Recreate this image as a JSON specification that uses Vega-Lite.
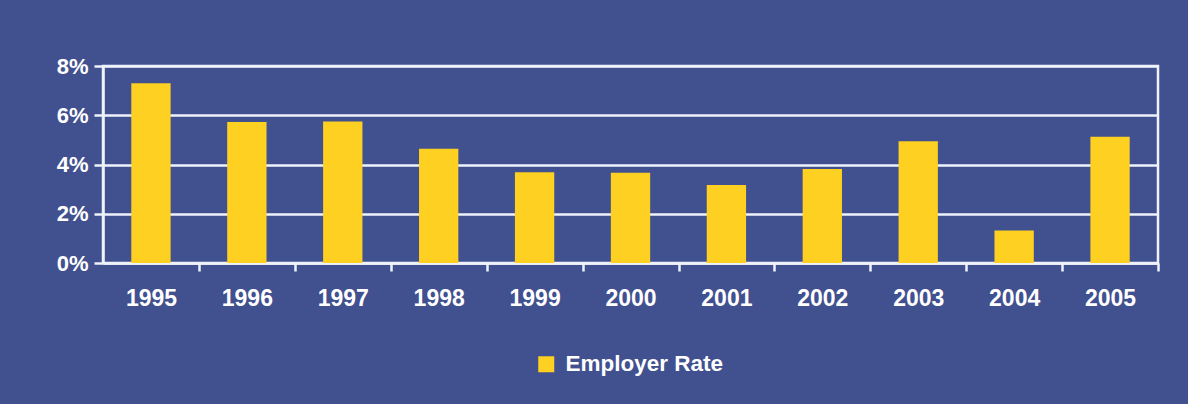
{
  "$schema": "https://vega.github.io/schema/vega-lite/v6.json",
  "width": 1055,
  "height": 197,
  "autosize": {"type": "none"},
  "padding": {"left": 103, "top": 66, "right": 30, "bottom": 141},
  "background": "#41508f",
  "config": {
    "view": {"stroke": "#eef2fb", "strokeWidth": 2.5},
    "font": "Liberation Sans"
  },
  "data": {
    "values": [
      {"year": "1995", "rate": 0.073, "series": "Employer Rate"},
      {"year": "1996", "rate": 0.0573, "series": "Employer Rate"},
      {"year": "1997", "rate": 0.0575, "series": "Employer Rate"},
      {"year": "1998", "rate": 0.0464, "series": "Employer Rate"},
      {"year": "1999", "rate": 0.0369, "series": "Employer Rate"},
      {"year": "2000", "rate": 0.0366, "series": "Employer Rate"},
      {"year": "2001", "rate": 0.0317, "series": "Employer Rate"},
      {"year": "2002", "rate": 0.0382, "series": "Employer Rate"},
      {"year": "2003", "rate": 0.0494, "series": "Employer Rate"},
      {"year": "2004", "rate": 0.0132, "series": "Employer Rate"},
      {"year": "2005", "rate": 0.0513, "series": "Employer Rate"}
    ]
  },
  "mark": {"type": "bar", "color": "#fdd021"},
  "encoding": {
    "x": {
      "field": "year",
      "type": "ordinal",
      "scale": {"paddingInner": 0.59, "paddingOuter": 0.295},
      "axis": {
        "title": null,
        "labelAngle": 0,
        "labelColor": "#ffffff",
        "labelFont": "Liberation Sans",
        "labelFontWeight": "bold",
        "labelFontSize": 23,
        "labelPadding": 16,
        "tickOffset": 48,
        "labelOffset": -48,
        "tickColor": "#eef2fb",
        "tickWidth": 2.5,
        "tickSize": 8,
        "domainColor": "#eef2fb",
        "domainWidth": 2.5,
        "grid": false
      }
    },
    "y": {
      "field": "rate",
      "type": "quantitative",
      "scale": {"domain": [0, 0.08]},
      "axis": {
        "title": null,
        "values": [0, 0.02, 0.04, 0.06, 0.08],
        "format": ".0%",
        "labelColor": "#ffffff",
        "labelFont": "Liberation Sans",
        "labelFontWeight": "bold",
        "labelFontSize": 22,
        "labelPadding": 6,
        "tickColor": "#eef2fb",
        "tickWidth": 2.5,
        "tickSize": 9,
        "domainColor": "#eef2fb",
        "domainWidth": 2.5,
        "grid": true,
        "gridColor": "#eef2fb",
        "gridWidth": 2.5,
        "gridOpacity": 1
      }
    },
    "fill": {
      "field": "series",
      "type": "nominal",
      "scale": {"range": ["#fdd021"]},
      "legend": {
        "title": null,
        "orient": "none",
        "legendX": 432,
        "legendY": 287,
        "symbolType": "square",
        "symbolSize": 256,
        "symbolStrokeWidth": 0,
        "labelColor": "#ffffff",
        "labelFont": "Liberation Sans",
        "labelFontWeight": "bold",
        "labelFontSize": 22.5,
        "labelOffset": 8,
        "labelLimit": 400
      }
    }
  }
}
